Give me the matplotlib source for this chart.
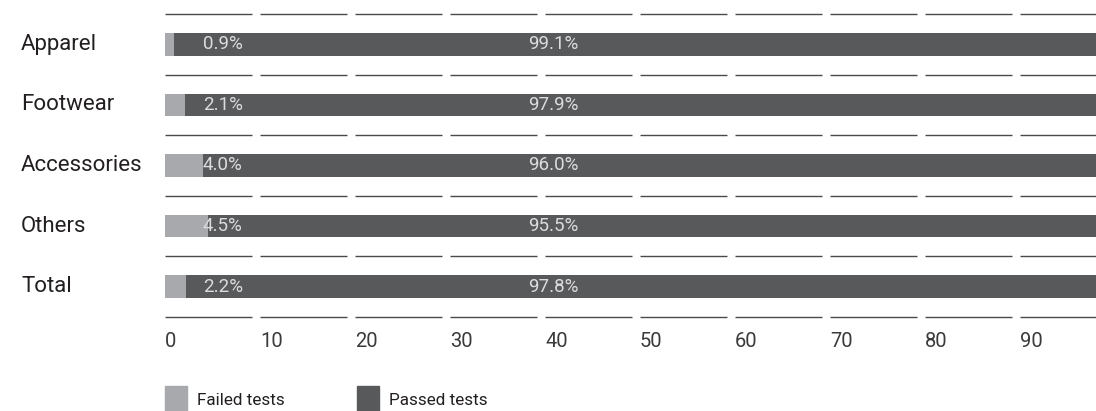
import matplotlib
matplotlib.use("Agg")
import matplotlib.pyplot as plt
from matplotlib.patches import Patch
import numpy as np

categories = ["Apparel", "Footwear", "Accessories", "Others", "Total"]
failed = [0.9, 2.1, 4.0, 4.5, 2.2]
passed = [99.1, 97.9, 96.0, 95.5, 97.8]
tick_values = [0, 10, 20, 30, 40, 50, 60, 70, 80, 90]
tick_labels = ["0", "10", "20", "30", "40", "50", "60", "70", "80", "90"]

FAILED_C = "#a7a9ac"
PASSED_C = "#58595b"
INBAR_TXT = "#dcdcde"
TXT = "#231f20"
LINE_C = "#4a4a4a"

plt.rcParams['font.family'] = ['Roboto', 'DejaVu Sans']

W, H = 1096, 411
fig = plt.figure(figsize=(W / 100, H / 100), dpi=100)
x0, x100 = 165, 1115
ytop, ybot = 14, 317
ax = fig.add_axes([x0 / W, 1 - ybot / H, (x100 - x0) / W, (ybot - ytop) / H])
ax.set_xlim(0, 100)
ax.set_ylim(len(categories) - 0.5, -0.5)

y = np.arange(len(categories))
ax.barh(y, failed, height=0.37, color=FAILED_C, linewidth=0)
ax.barh(y, passed, left=failed, height=0.37, color=PASSED_C, linewidth=0)

# separator lines between rows, broken at every tick
for b in np.arange(-0.5, len(categories), 1.0):
    for t in tick_values + [100]:
        ax.plot([t, t + 9.15], [b, b], color=LINE_C, lw=1.0, solid_capstyle='butt', clip_on=False)

for i, (f, p) in enumerate(zip(failed, passed)):
    ax.text(4.0, i, f"{f:.1f}%", ha='left', va='center', color=INBAR_TXT, fontsize=13.5)
    ax.text(38.2, i, f"{p:.1f}%", ha='left', va='center', color=INBAR_TXT, fontsize=13.5)

for i, c in enumerate(categories):
    fig.text(21 / W, 1 - (ytop + (i + 0.5) * (ybot - ytop) / len(categories)) / H, c,
             ha='left', va='center', fontsize=16, color=TXT)

ax.set_xticks(tick_values)
ax.set_xticklabels(tick_labels, ha='left', fontsize=14.5, color="#3a3a3a")
ax.tick_params(axis='x', length=0, pad=11)
ax.set_yticks([])
for s in ax.spines.values():
    s.set_visible(False)

handles = [Patch(color=FAILED_C, label="Failed tests"), Patch(color=PASSED_C, label="Passed tests")]
leg = fig.legend(handles=handles, loc='upper left', bbox_to_anchor=(x0 / W, 1 - 386 / H),
                 ncol=2, frameon=False, fontsize=12.3, borderpad=0, borderaxespad=0,
                 handlelength=1.29, handleheight=2.0, handletextpad=0.6, columnspacing=4.2,
                 labelcolor=TXT)

fig.savefig("out.png", dpi=100)
